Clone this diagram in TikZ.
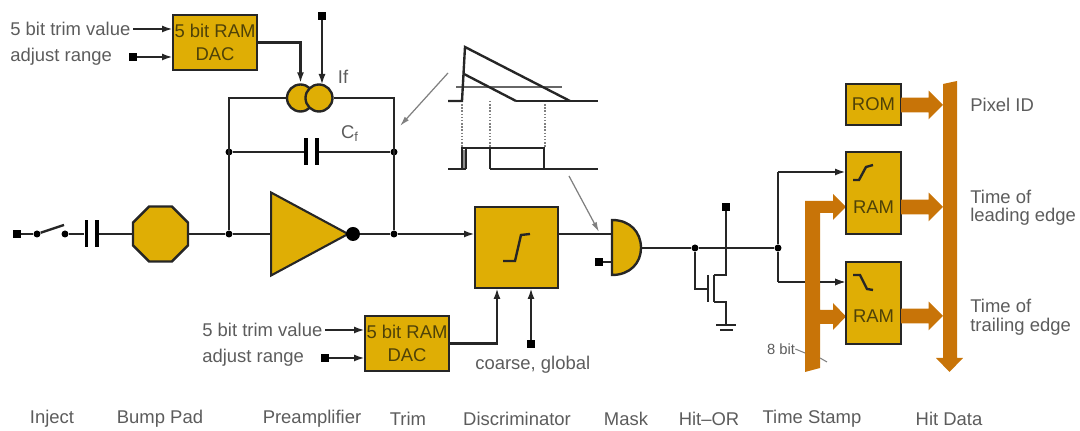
\documentclass[tikz,border=0pt]{standalone}
\usepackage{fontspec}
\setmainfont{Liberation Sans}
\usetikzlibrary{shapes.geometric,shapes.arrows,arrows.meta}

\definecolor{gold}{HTML}{DFAE05}
\definecolor{bus}{HTML}{C87408}
\definecolor{labelgray}{HTML}{5C5C5C}
\definecolor{boxtext}{HTML}{4F4208}

\tikzset{
    wire/.style={line width=1.35pt,black!85},
    sig/.style={wire,->},
    hint/.style={line width=.7pt,black!50,-{Latex[length=.2cm,width=.11cm]}},
    block/.style={draw=black!85,line width=1.35pt,fill=gold,inner sep=0pt,outer sep=0pt,text=boxtext,align=center,font=\fontsize{10.5}{13.5}\selectfont},
    pin/.style={fill=black,inner sep=0pt,minimum size=.15cm},
    junction/.style={circle,fill=black,inner sep=0pt,minimum size=.14cm},
    plate/.style={fill=black,inner sep=0pt,minimum width=.08cm,minimum height=.54cm},
    lbl/.style={text=labelgray,inner sep=0pt,font=\fontsize{10.5}{13.5}\selectfont},
    fatarrow/.style={single arrow,fill=bus,inner sep=.14cm,outer sep=0pt,minimum width=.56cm,minimum height=.84cm,single arrow head extend=.14cm,anchor=west},
    dacbox/.style={block,minimum width=1.68cm,minimum height=1.1cm},
    rambox/.style={block,minimum width=1.1cm,minimum height=1.64cm},
    ifsource/.style={circle,draw=black!85,line width=1.35pt,fill=gold,inner sep=0pt,minimum size=.54cm}
}

\begin{document}
\begin{tikzpicture}[x=.02cm,y=-.02cm,>={Latex[length=.22cm,width=.14cm]}]
    \useasboundingbox (0,0) rectangle (1080,431);

    % Trim arriba
    \node[dacbox] (dactop) at (215,42.5) {5 bit RAM\\DAC};
    \node[lbl,anchor=west] (trimtop) at (10,29) {5 bit trim value};
    \node[lbl,anchor=west] (rangetop) at (10,57) {adjust range};
    \node[pin] (pinrangetop) at (133,57) {};
    \node[pin] (pinif) at (322,16) {};
    \coordinate (trimtopin) at (173,29);
    \coordinate (trimtopout) at (133,29);
    \coordinate (rangetopin) at (173,57);
    \coordinate (ifin) at (322,85);
    \draw[sig] (trimtopout) -- (trimtopin);
    \draw[sig] (pinrangetop) -- (rangetopin);

    % Fuentes de corriente
    \node[ifsource] (ifa) at (300.5,98) {};
    \node[ifsource] (ifb) at (319,98) {};
    \node[lbl] (iflabel) at (343,77) {If};
    \draw[sig] (dactop.east) -- (dactop.east -| ifa) -- (ifa.north);
    \draw[sig] (pinif) -- (ifin);

    % Realimentacion
    \node[junction] (fbleft) at (229,152) {};
    \node[junction] (fbright) at (394,152) {};
    \node[junction] (inleft) at (229,234) {};
    \node[junction] (outright) at (394,234) {};
    \node[plate] (cfa) at (306,152) {};
    \node[plate] (cfb) at (317,152) {};
    \node[lbl] (cflabel) at (350,134) {C\textsubscript{f}};
    \draw[wire] (ifa.west) -- (ifa.west -| inleft) -- (inleft);
    \draw[wire] (ifb.east) -- (ifb.east -| outright) -- (outright);
    \draw[wire] (fbleft) -- (cfa);
    \draw[wire] (cfb) -- (fbright);

    % Entrada
    \node[pin] (pininject) at (17,234) {};
    \node[junction] (swa) at (37,234) {};
    \node[junction] (swb) at (65,234) {};
    \coordinate (swtip) at (64,225);
    \node[plate] (capa) at (86.5,234) {};
    \node[plate] (capb) at (97,234) {};
    \node[regular polygon,regular polygon sides=8,draw=black!85,line width=1.35pt,fill=gold,inner sep=0pt,minimum size=1.19cm] (bump) at (160.5,234) {};
    \node[isosceles triangle,isosceles triangle stretches,draw=black!85,line width=1.2pt,fill=gold,inner sep=0pt,minimum width=1.66cm,minimum height=1.54cm,anchor=west] (preamp) at (270,234) {};
    \node[circle,fill=black,inner sep=0pt,minimum size=.28cm] (bubble) at (353,234) {};
    \draw[wire] (pininject) -- (swa);
    \draw[wire] (swa) -- (swtip);
    \draw[wire] (swb) -- (capa);
    \draw[wire] (capb) -- (bump);
    \draw[wire] (bump) -- (inleft);
    \draw[wire] (inleft) -- (preamp.west);
    \draw[wire] (bubble) -- (outright);

    % Discriminador
    \node[block,minimum width=1.66cm,minimum height=1.62cm] (disc) at (516.5,247.5) {};
    \draw[wire] (503,261) -- (515,261) -- (521,235) -- (530,234);
    \node[dacbox] (dacbot) at (407,343.5) {5 bit RAM\\DAC};
    \node[lbl,anchor=west] (trimbot) at (202,330) {5 bit trim value};
    \node[lbl,anchor=west] (rangebot) at (202,358) {adjust range};
    \node[pin] (pinrangebot) at (325,358) {};
    \node[pin] (pincoarse) at (531,344) {};
    \node[lbl,anchor=west] (coarse) at (475,365) {coarse, global};
    \coordinate (trimbotout) at (325,330);
    \coordinate (trimbotin) at (365,330);
    \coordinate (rangebotin) at (365,358);
    \coordinate (discin) at (475,234);
    \coordinate (discdac) at (497,288);
    \coordinate (disccoarse) at (531,288);
    \draw[sig] (outright) -- (discin);
    \draw[sig] (trimbotout) -- (trimbotin);
    \draw[sig] (pinrangebot) -- (rangebotin);
    \draw[sig] (dacbot.east) -- (dacbot.east -| discdac) -- (discdac);
    \draw[sig] (pincoarse) -- (disccoarse);

    % Mascara
    \coordinate (maskin) at (612,234);
    \coordinate (maskbot) at (612,262);
    \coordinate (maskout) at (641,248);
    \node[pin] (pinmask) at (599,262) {};
    \draw[wire] (disc.east |- discin) -- (maskin);
    \draw[wire] (pinmask) -- (maskbot);
    \draw[wire,fill=gold] (612,220) .. controls (630,220) and (641,232) .. (maskout) .. controls (641,263) and (630,275) .. (612,275) -- cycle;

    % Hit-OR
    \node[junction] (orgate) at (695,248) {};
    \node[junction] (tsnode) at (778,248) {};
    \node[pin] (pinor) at (726,207) {};
    \coordinate (gate) at (707,289);
    \coordinate (drain) at (714,275);
    \coordinate (source) at (714,302);
    \coordinate (ground) at (726,325);
    \draw[wire] (maskout) -- (orgate);
    \draw[wire] (orgate) -- (tsnode);
    \draw[wire] (orgate) |- (gate);
    \draw[wire] (708,275) -- (708,302);
    \draw[wire] (714,275) -- (714,302);
    \draw[wire] (drain) -- (726,275) -- (pinor);
    \draw[wire] (source) -- (726,302) -- (ground);
    \draw[wire] (716,325) -- (736,325);
    \draw[wire] (720,330) -- (733,330);

    % Pulsos
    \draw[line width=.8pt,black!60] (456,87) -- (562,87);
    \foreach \x in {462,490,545}
        \draw[densely dotted,line width=.8pt,black!50] (\x,101) -- (\x,148);
    \draw[wire] (448,101) -- (462,101) -- (465,47) -- (570,101);
    \draw[wire] (464,74) -- (516,101);
    \draw[wire] (516,101) -- (598,101);
    \draw[wire] (448,169) -- (462,169) -- (462,148) -- (544,148) -- (544,169);
    \draw[wire] (466,148) -- (466,169);
    \draw[wire] (490,148) -- (490,169);
    \draw[wire] (462,169) -- (466,169);
    \draw[wire] (490,169) -- (598,169);
    \draw[line width=1.2pt,black!45] (464,150) -- (464,168);
    \coordinate (hinta) at (448,73);
    \coordinate (hintb) at (400,126);
    \coordinate (hintc) at (569,176);
    \coordinate (hintd) at (599,232);
    \draw[hint] (hinta) -- (hintb);
    \draw[hint] (hintc) -- (hintd);

    % Time stamp
    \coordinate (upin) at (846,172);
    \coordinate (downin) at (846,282);
    \draw[wire] (tsnode) -- (778,172);
    \draw[sig] (778,172) -- (upin);
    \draw[wire] (tsnode) -- (778,282);
    \draw[sig] (778,282) -- (downin);
    \fill[bus] (805,372) -- (805,201) -- (833,201) -- (833,194) -- (846,207) -- (833,220) -- (833,213) -- (820,213) -- (820,310) -- (833,310) -- (833,303) -- (846,316.5) -- (833,330) -- (833,324) -- (820,324) -- (820,368) -- cycle;
    \draw[sig] (820,282) -- (downin);
    \node[inner sep=0pt,text=labelgray,font=\fontsize{8.4}{10}\selectfont] (bits) at (781,349) {8 bit};
    \coordinate (bitsa) at (805,353);
    \coordinate (bitsb) at (820,358);
    \coordinate (bitsc) at (827,362);
    \draw[line width=.6pt,black!50] (bits.east) -- (bitsa);
    \draw[line width=.6pt,black!50] (bitsb) -- (bitsc);

    % Hit data
    \fill[bus] (943,84) -- (957,81) -- (957,358) -- (963,358) -- (949.5,372) -- (936,358) -- (943,358) -- cycle;
    \node[block,minimum width=1.1cm,minimum height=.82cm] (rom) at (873.5,104.5) {ROM};
    \node[rambox] (ramup) at (873.5,193) {};
    \node[rambox] (ramdown) at (873.5,303) {};
    \node[text=boxtext,inner sep=0pt,font=\fontsize{10.5}{13.5}\selectfont] (ramuptext) at (873.5,207) {RAM};
    \node[text=boxtext,inner sep=0pt,font=\fontsize{10.5}{13.5}\selectfont] (ramdowntext) at (873.5,316) {RAM};
    \draw[wire] (853,180) -- (859,180) -- (866,167) -- (873,165);
    \draw[wire] (853,275) -- (860,275) -- (867,289) -- (873,290);
    \foreach \y/\name in {105/romout,207/upout,316/downout}
        \node[fatarrow] (\name) at (901,\y) {};

    % Textos
    \node[lbl,anchor=west] (pixel) at (970,105) {Pixel ID};
    \node[lbl,anchor=west] (leadinga) at (970,197) {Time of};
    \node[lbl,anchor=west] (leadingb) at (970,217) {leading edge};
    \node[lbl,anchor=west] (trailinga) at (970,306) {Time of};
    \node[lbl,anchor=west] (trailingb) at (970,327) {trailing edge};
    \foreach \x/\xtext in {52/Inject,160/Bump Pad,312/Preamplifier,408/Trim,517/Discriminator,626/Mask,709/Hit--OR,812/Time Stamp,949/Hit Data}
        \node[lbl] (stage\x) at (\x,419) {\xtext};
\end{tikzpicture}
\end{document}
